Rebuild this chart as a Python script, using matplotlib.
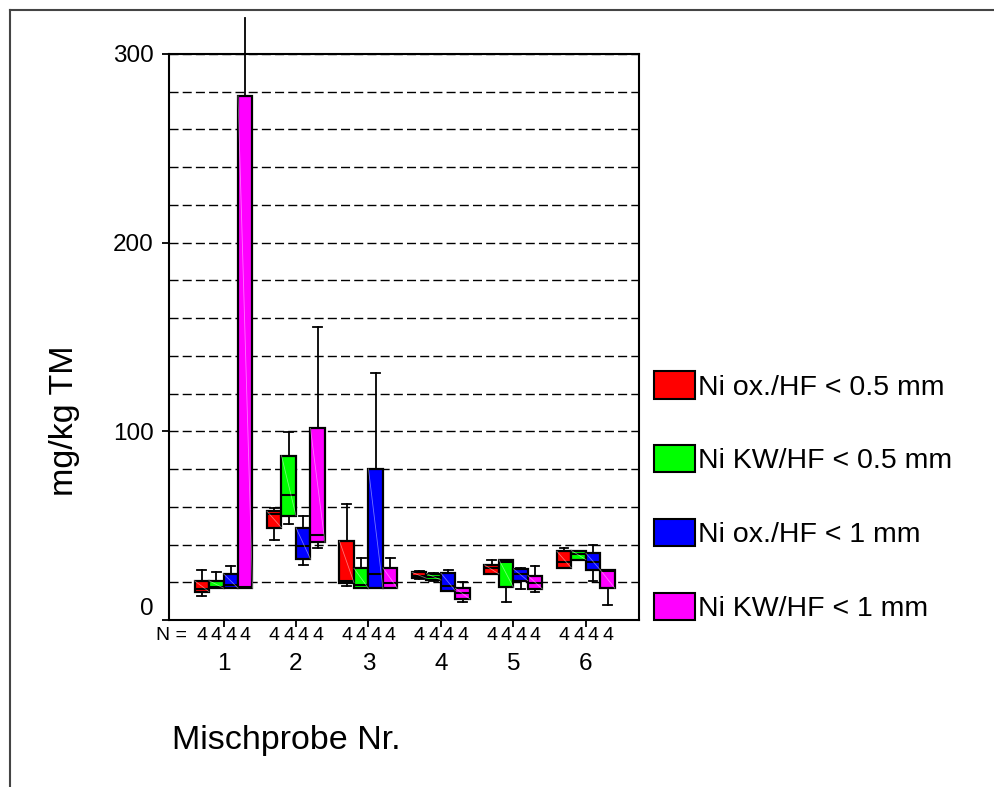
import matplotlib
matplotlib.use('Agg')
import matplotlib.pyplot as plt
from matplotlib.patches import Patch
from matplotlib.lines import Line2D
import numpy as np

plt.rcParams['font.family'] = ['Liberation Sans', 'DejaVu Sans']

# groups (Mischprobe Nr.) and series
groups = [1, 2, 3, 4, 5, 6]
series = ['Ni ox./HF < 0.5 mm', 'Ni KW/HF < 0.5 mm', 'Ni ox./HF < 1 mm', 'Ni KW/HF < 1 mm']
colors = ['#ff0000', '#00ff00', '#0000ff', '#ff00ff']
n_counts = [[4, 4, 4, 4]] * 6

# box statistics per series, one value per group (mg/kg TM)
whislo = [
    [12.5, 42.3, 18.2, 21.5, 24.4, 27.6],
    [16.9, 51.0, 16.8, 20.8, 9.4, 32.0],
    [16.9, 29.3, 16.8, 15.5, 16.4, 20.8],
    [16.8, 37.9, 16.8, 9.4, 14.7, 8.0],
]
q1 = [
    [15.0, 48.9, 19.8, 22.1, 24.4, 27.6],
    [16.9, 55.3, 16.8, 21.2, 17.3, 32.0],
    [16.9, 32.3, 16.8, 15.5, 20.8, 26.5],
    [16.8, 41.1, 16.8, 11.1, 16.4, 16.8],
]
median = [
    [16.5, 56.2, 20.5, 23.5, 27.4, 30.6],
    [17.5, 66.4, 18.7, 23.0, 30.6, 35.0],
    [18.7, 39.3, 24.4, 18.2, 24.4, 30.9],
    [17.6, 45.3, 19.6, 14.2, 19.5, 25.8],
]
q3 = [
    [20.8, 57.6, 41.8, 25.3, 29.2, 36.4],
    [20.8, 87.1, 27.4, 24.6, 32.0, 36.8],
    [24.5, 48.9, 80.1, 24.8, 27.1, 35.4],
    [277.8, 101.5, 27.6, 16.8, 23.5, 26.5],
]
whishi = [
    [26.5, 59.6, 61.4, 25.8, 32.0, 37.9],
    [25.4, 99.4, 32.9, 25.0, 32.0, 36.8],
    [28.7, 55.3, 131.0, 26.5, 27.6, 39.9],
    [319.0, 155.5, 32.9, 20.0, 28.8, 26.5],
]

offsets = [-0.3, -0.1, 0.1, 0.3]
width = 0.2

fig = plt.figure(figsize=(9.95, 7.87), dpi=100)
ax = fig.add_axes([0.170, 0.2122, 0.472, 0.7192])

for s in range(len(series)):
    stats = []
    for g in range(len(groups)):
        stats.append(dict(med=median[s][g], q1=q1[s][g], q3=q3[s][g],
                          whislo=whislo[s][g], whishi=whishi[s][g], fliers=[]))
    pos = [x + offsets[s] for x in groups]
    bp = ax.bxp(stats, positions=pos, widths=width, capwidths=0.12,
                patch_artist=True, showfliers=False, manage_ticks=False,
                boxprops=dict(facecolor=colors[s], edgecolor='black', linewidth=1.6),
                medianprops=dict(color='black', linewidth=1.5),
                whiskerprops=dict(color='black', linewidth=1.3),
                capprops=dict(color='black', linewidth=1.3))
    for w in bp['whiskers']:
        w.set_clip_on(False)
    # faint diagonal highlight inside the boxes
    for g in range(len(groups)):
        ax.plot([pos[g] - width / 2, pos[g] + width / 2], [q3[s][g], q1[s][g]],
                color='white', lw=0.6, alpha=0.45, zorder=2.5)
    # N counts under each box
    for g in range(len(groups)):
        ax.text(pos[g], -0.028, str(n_counts[g][s]), transform=ax.get_xaxis_transform(),
                ha='center', va='center', fontsize=14)

ax.text(0.49, -0.028, 'N =', transform=ax.get_xaxis_transform(),
        ha='right', va='center', fontsize=14)

ax.set_xlim(0.25, 6.73)
ax.set_ylim(0, 300)
ax.set_xticks(groups)
ax.set_xticklabels([str(g) for g in groups])
ax.set_yticks([0, 100, 200, 300])
ax.set_yticks(np.arange(20, 300, 20), minor=True)
ax.tick_params(axis='y', which='minor', length=0)
ax.tick_params(axis='y', which='major', length=5, width=1.3, labelsize=17.5, pad=6)
ax.tick_params(axis='x', length=5, width=1.3, labelsize=17.5, pad=19)
ax.get_yticklabels()[0].set_va('bottom')
ax.grid(True, axis='y', which='both', color='black', linestyle=(0, (6.5, 3)), linewidth=1.0)
ax.set_axisbelow(True)
for sp in ax.spines.values():
    sp.set_linewidth(1.5)

fig.text(0.0653, 0.466, 'mg/kg TM', rotation=90, ha='center', va='center', fontsize=24.5)
fig.text(0.173, 0.0585, 'Mischprobe Nr.', ha='left', va='center', fontsize=24.5)

handles = [Patch(facecolor=c, edgecolor='black', linewidth=1.5) for c in colors]
fig.legend(handles, series, loc='center left', bbox_to_anchor=(0.657, 0.369),
           frameon=False, fontsize=20.5, handlelength=1.45, handleheight=1.1,
           handletextpad=0.1, labelspacing=1.56, borderaxespad=0, borderpad=0)

# outer frame (top and left edge)
fig.add_artist(Line2D([0.010, 1.0], [0.987, 0.987], color='#444444', lw=1.5))
fig.add_artist(Line2D([0.010, 0.010], [0.0, 0.987], color='#444444', lw=1.5))

fig.savefig('out.png', dpi=100)
